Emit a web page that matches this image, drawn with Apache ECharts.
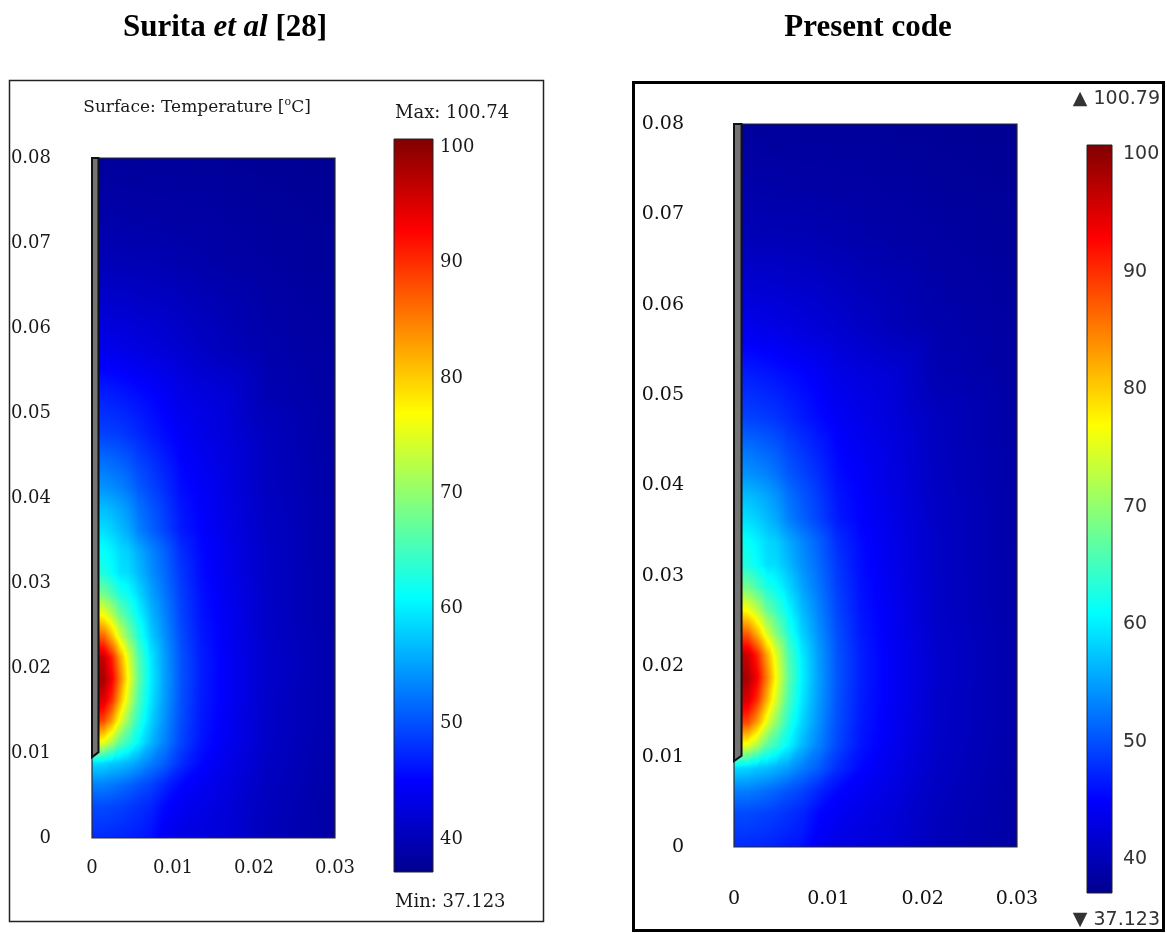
<!DOCTYPE html>
<html>
<head>
<meta charset="utf-8">
<script src="https://cdn.jsdelivr.net/npm/echarts@6/dist/echarts.min.js"></script>
<style>
html,body{margin:0;padding:0;background:#fff;}
#chart{width:1167px;height:933px;}
</style>
</head>
<body>
<div id="chart"></div>
<script>
// ---------- data ----------
// positions of the sampled temperature nodes, metres
const xNodes = [0, 0.0015, 0.0025, 0.0035, 0.0045, 0.00575, 0.00725, 0.009, 0.011, 0.0135, 0.017, 0.0215, 0.03];
const yNodes = [0, 0.00375, 0.00625, 0.00875, 0.01125, 0.01375, 0.01625, 0.01875, 0.02125, 0.02375, 0.02625,
                0.02875, 0.03125, 0.03375, 0.03625, 0.03875, 0.04125, 0.04375, 0.0475, 0.0525, 0.0575,
                0.0625, 0.0675, 0.0725, 0.08];
// estimated temperature [°C] at each node, rows from bottom (y=0) to top (y=0.08)
const tempField = [
  [47.7, 47.6, 47.5, 47.3, 47.0, 46.6, 46.0, 44.3, 43.1, 42.7, 42.0, 40.2, 38.6],
  [49.7, 49.7, 49.4, 49.1, 48.7, 48.1, 47.3, 45.4, 44.3, 43.4, 42.3, 40.4, 38.7],
  [53.1, 53.0, 52.5, 51.9, 51.3, 50.3, 49.2, 47.3, 45.4, 44.3, 42.8, 40.7, 38.8],
  [58.9, 58.4, 57.5, 57.1, 56.2, 54.9, 52.9, 50.8, 47.8, 45.4, 43.4, 41.0, 38.9],
  [77.4, 75.4, 71.5, 66.7, 64.2, 60.6, 56.6, 53.1, 49.3, 46.2, 43.9, 41.2, 39.0],
  [90.3, 87.9, 82.5, 75.2, 69.6, 63.5, 58.3, 54.1, 49.8, 46.5, 44.1, 41.3, 39.1],
  [97.0, 94.9, 89.7, 81.5, 74.0, 65.7, 59.5, 54.7, 50.1, 46.7, 44.3, 41.3, 39.1],
  [100.1, 98.0, 93.0, 85.0, 76.5, 67.0, 60.1, 55.0, 50.3, 46.8, 44.3, 41.5, 39.1],
  [97.9, 95.9, 90.6, 82.5, 74.7, 66.0, 59.7, 54.8, 50.2, 46.8, 44.3, 41.5, 39.1],
  [88.8, 86.3, 80.9, 74.0, 68.7, 63.1, 58.0, 54.0, 49.8, 46.5, 44.1, 41.3, 39.1],
  [78.4, 76.3, 72.3, 67.4, 64.6, 60.8, 56.7, 53.2, 49.3, 46.2, 44.0, 41.2, 39.0],
  [69.3, 67.9, 65.4, 62.6, 61.3, 58.6, 55.3, 52.4, 48.9, 46.0, 43.8, 41.2, 39.0],
  [63.3, 62.6, 61.0, 59.2, 58.8, 56.7, 54.1, 51.6, 48.4, 45.7, 43.6, 41.1, 39.0],
  [61.8, 61.3, 60.2, 58.7, 58.0, 55.8, 53.5, 51.1, 47.8, 45.5, 43.5, 41.1, 38.9],
  [59.3, 58.9, 58.0, 56.8, 55.6, 53.1, 51.2, 49.2, 46.6, 45.1, 43.2, 41.0, 38.9],
  [57.2, 56.9, 56.3, 55.4, 54.3, 52.2, 50.5, 48.7, 46.3, 44.9, 43.1, 40.9, 38.9],
  [54.4, 54.2, 53.7, 53.1, 52.2, 50.6, 49.3, 47.8, 45.7, 44.6, 42.9, 40.7, 38.8],
  [52.5, 52.4, 52.0, 51.4, 50.8, 49.5, 48.4, 47.0, 45.3, 44.2, 42.8, 40.6, 38.8],
  [49.3, 49.1, 48.9, 48.6, 48.2, 47.5, 46.6, 45.6, 44.5, 43.5, 42.4, 40.5, 38.7],
  [46.8, 46.7, 46.5, 46.3, 46.0, 45.6, 45.1, 44.4, 43.3, 42.7, 42.0, 39.7, 38.5],
  [43.7, 43.7, 43.6, 43.4, 43.2, 43.0, 42.6, 42.2, 41.7, 41.0, 40.1, 39.3, 38.4],
  [41.8, 41.8, 41.7, 41.7, 41.6, 41.3, 41.2, 41.0, 40.6, 40.1, 39.6, 38.9, 38.1],
  [40.0, 40.0, 40.0, 39.9, 39.9, 39.8, 39.8, 39.6, 39.4, 39.2, 38.8, 38.5, 37.9],
  [39.1, 39.1, 39.1, 39.1, 39.0, 39.0, 38.9, 38.8, 38.7, 38.7, 38.4, 38.1, 37.8],
  [38.1, 38.1, 38.1, 38.0, 38.0, 38.0, 38.0, 38.0, 37.9, 37.9, 37.8, 37.7, 37.5]
];
// colour range of each plot
const leftRange = [37.123, 100.74];
const rightRange = [37.123, 100.79];
// colour bar labels and ticks
const cbLabels = [40, 50, 60, 70, 80, 90, 100];
const cbTicks = [50, 60, 70, 80, 90];
// probe geometry (metres)
const probe = { radius: 0.0008, tipY: 0.0101, footY: 0.0095, topY: 0.08 };
// axis extents
const xRange = [0, 0.03];
const yRange = [0, 0.08];
// jet colour map
const jetColors = ['#00008F', '#0000FF', '#0080FF', '#00FFFF', '#80FF80', '#FFFF00', '#FF8000', '#FF0000', '#800000'];

// ---------- colour helpers ----------
const jetRGB = jetColors.map(h => [parseInt(h.substr(1, 2), 16), parseInt(h.substr(3, 2), 16), parseInt(h.substr(5, 2), 16)]);
function jetColor(v, range) {
  let t = (v - range[0]) / (range[1] - range[0]);
  t = Math.max(0, Math.min(1, t)) * (jetRGB.length - 1);
  const i = Math.min(jetRGB.length - 2, Math.floor(t));
  const f = t - i;
  const a = jetRGB[i], b = jetRGB[i + 1];
  return 'rgb(' + Math.round(a[0] + (b[0] - a[0]) * f) + ',' + Math.round(a[1] + (b[1] - a[1]) * f) + ',' + Math.round(a[2] + (b[2] - a[2]) * f) + ')';
}
// linear shading of one mesh triangle (pixel points P, node values V)
function triangleFill(P, V, range) {
  const a = P[0], b = P[1], c = P[2];
  const d1x = b[0] - a[0], d1y = b[1] - a[1], d2x = c[0] - a[0], d2y = c[1] - a[1];
  const dv1 = V[1] - V[0], dv2 = V[2] - V[0];
  const det = d1x * d2y - d1y * d2x;
  const vlo = Math.min(V[0], V[1], V[2]), vhi = Math.max(V[0], V[1], V[2]);
  if (Math.abs(det) < 1e-9 || vhi - vlo < 1e-6) return jetColor(V[0], range);
  const gx = (dv1 * d2y - d1y * dv2) / det;
  const gy = (d1x * dv2 - d2x * dv1) / det;
  const g2 = gx * gx + gy * gy;
  if (g2 < 1e-14) return jetColor(V[0], range);
  const sx = a[0] + (vlo - V[0]) * gx / g2, sy = a[1] + (vlo - V[0]) * gy / g2;
  const ex = a[0] + (vhi - V[0]) * gx / g2, ey = a[1] + (vhi - V[0]) * gy / g2;
  const stops = [{ offset: 0, color: jetColor(vlo, range) }];
  const n = jetRGB.length - 1;
  for (let k = 1; k < n; k++) {
    const vk = range[0] + (range[1] - range[0]) * k / n;
    if (vk > vlo && vk < vhi) stops.push({ offset: (vk - vlo) / (vhi - vlo), color: jetColor(vk, range) });
  }
  stops.push({ offset: 1, color: jetColor(vhi, range) });
  return { type: 'linear', x: sx, y: sy, x2: ex, y2: ey, global: true, colorStops: stops };
}

// ---------- build ----------
function meshData(field) {
  const out = [];
  for (let r = 0; r < yNodes.length - 1; r++) {
    for (let c = 0; c < xNodes.length - 1; c++) {
      out.push([xNodes[c], xNodes[c + 1], yNodes[r], yNodes[r + 1],
                field[r][c], field[r][c + 1], field[r + 1][c + 1], field[r + 1][c]]);
    }
  }
  return out;
}
function makeRenderMesh(range) {
  return function (params, api) {
    const x0 = api.value(0), x1 = api.value(1), y0 = api.value(2), y1 = api.value(3);
    const p00 = api.coord([x0, y0]), p10 = api.coord([x1, y0]), p11 = api.coord([x1, y1]), p01 = api.coord([x0, y1]);
    const v00 = api.value(4), v10 = api.value(5), v11 = api.value(6), v01 = api.value(7);
    const f1 = triangleFill([p00, p10, p11], [v00, v10, v11], range);
    const f2 = triangleFill([p00, p11, p01], [v00, v11, v01], range);
    return {
      type: 'group',
      children: [
        { type: 'polygon', shape: { points: [p00, p10, p11] }, style: { fill: f1, stroke: f1, lineWidth: 1.3, lineJoin: 'round' } },
        { type: 'polygon', shape: { points: [p00, p11, p01] }, style: { fill: f2, stroke: f2, lineWidth: 1.3, lineJoin: 'round' } }
      ]
    };
  };
}
function renderFrameAndProbe(params, api) {
  const tl = api.coord([xRange[0], yRange[1]]);
  const br = api.coord([xRange[1], yRange[0]]);
  const pts = [
    api.coord([0, probe.topY]),
    api.coord([probe.radius, probe.topY]),
    api.coord([probe.radius, probe.tipY]),
    api.coord([0, probe.footY])
  ];
  return {
    type: 'group',
    children: [
      { type: 'rect', shape: { x: tl[0], y: tl[1], width: br[0] - tl[0], height: br[1] - tl[1] },
        style: { fill: 'none', stroke: '#2a2a2a', lineWidth: 1.2 } },
      { type: 'polygon', shape: { points: pts },
        style: { fill: '#747474', stroke: '#111', lineWidth: 2 } }
    ]
  };
}
function renderColorBar(params, api) {
  const p0 = api.coord([0, api.value(3)]);
  const p1 = api.coord([1, api.value(2)]);
  const stops = jetColors.slice().reverse().map((c, i, a) => ({ offset: i / (a.length - 1), color: c }));
  return {
    type: 'rect',
    shape: { x: p0[0], y: p0[1], width: p1[0] - p0[0], height: p1[1] - p0[1] },
    style: { fill: { type: 'linear', x: 0, y: 0, x2: 0, y2: 1, colorStops: stops }, stroke: '#222', lineWidth: 1 }
  };
}
const tickFmt = v => (Math.abs(v) < 1e-9 ? '0' : (+v).toFixed(2));

const serifL = { fontFamily: 'DejaVu Serif', fontSize: 18, color: '#1a1a1a' };
const serifR = { fontFamily: 'DejaVu Serif', fontSize: 19, color: '#111' };

function plotAxes(gridIndex, font, xMargin, yMargin) {
  return {
    x: {
      type: 'value', gridIndex, min: xRange[0], max: xRange[1], interval: 0.01,
      axisLine: { show: false }, axisTick: { show: false }, splitLine: { show: false },
      axisLabel: Object.assign({ margin: xMargin, formatter: tickFmt, showMinLabel: true, showMaxLabel: true }, font)
    },
    y: {
      type: 'value', gridIndex, min: yRange[0], max: yRange[1], interval: 0.01,
      axisLine: { show: false }, axisTick: { show: false }, splitLine: { show: false },
      axisLabel: Object.assign({ margin: yMargin, formatter: tickFmt, showMinLabel: true, showMaxLabel: true }, font)
    }
  };
}
function barAxes(gridIndex, range, labelFont, margin, showTicks) {
  return {
    x: { type: 'value', gridIndex, min: 0, max: 1, show: false },
    y: {
      type: 'value', gridIndex, min: range[0], max: range[1], position: 'right',
      axisLine: { show: false }, splitLine: { show: false },
      axisTick: { show: showTicks, customValues: cbTicks, length: 4, lineStyle: { color: '#222', width: 1 } },
      axisLabel: Object.assign({ margin, customValues: cbLabels, formatter: v => String(Math.round(v)) }, labelFont)
    }
  };
}

const aL = plotAxes(0, serifL, 21, 41);
const bL = barAxes(1, leftRange, { fontFamily: 'DejaVu Serif', fontSize: 18, color: '#1a1a1a' }, 7, true);
const aR = plotAxes(2, serifR, 43, 50);
const bR = barAxes(3, rightRange, { fontFamily: 'DejaVu Sans', fontSize: 19, color: '#333' }, 11, false);

const option = {
  animation: false,
  backgroundColor: '#fff',
  grid: [
    { left: 92, top: 158, width: 243, height: 680, show: true, backgroundColor: '#0000b4', borderWidth: 0 },
    { left: 394, top: 139, width: 39, height: 733 },
    { left: 734, top: 124, width: 283, height: 723, show: true, backgroundColor: '#0000b4', borderWidth: 0 },
    { left: 1087, top: 145, width: 25, height: 748 }
  ],
  xAxis: [aL.x, bL.x, aR.x, bR.x],
  yAxis: [aL.y, bL.y, aR.y, bR.y],
  series: [
    { type: 'custom', xAxisIndex: 0, yAxisIndex: 0, clip: true, renderItem: makeRenderMesh(leftRange), encode: { x: [0, 1], y: [2, 3] }, data: meshData(tempField), silent: true },
    { type: 'custom', xAxisIndex: 0, yAxisIndex: 0, renderItem: renderFrameAndProbe, data: [[0]], silent: true, z: 5 },
    { type: 'custom', xAxisIndex: 1, yAxisIndex: 1, renderItem: renderColorBar, encode: { y: [2, 3] }, data: [[0, 1, leftRange[0], leftRange[1]]], silent: true },
    { type: 'custom', xAxisIndex: 2, yAxisIndex: 2, clip: true, renderItem: makeRenderMesh(rightRange), encode: { x: [0, 1], y: [2, 3] }, data: meshData(tempField), silent: true },
    { type: 'custom', xAxisIndex: 2, yAxisIndex: 2, renderItem: renderFrameAndProbe, data: [[0]], silent: true, z: 5 },
    { type: 'custom', xAxisIndex: 3, yAxisIndex: 3, renderItem: renderColorBar, encode: { y: [2, 3] }, data: [[0, 1, rightRange[0], rightRange[1]]], silent: true }
  ],
  graphic: [
    { type: 'rect', silent: true, shape: { x: 9.5, y: 80.5, width: 534, height: 841 }, style: { fill: 'none', stroke: '#222', lineWidth: 1.5 } },
    { type: 'rect', silent: true, shape: { x: 633.5, y: 82.5, width: 530, height: 848 }, style: { fill: 'none', stroke: '#000', lineWidth: 3 } },
    { type: 'text', silent: true, x: 225, y: 28, style: {
        text: '{b|Surita }{bi|et al}{b| [28]}', align: 'center', verticalAlign: 'middle',
        rich: {
          b: { fontFamily: 'Liberation Serif', fontWeight: 'bold', fontSize: 31, fill: '#000' },
          bi: { fontFamily: 'Liberation Serif', fontWeight: 'bold', fontStyle: 'italic', fontSize: 31, fill: '#000' }
        } } },
    { type: 'text', silent: true, x: 868, y: 28, style: {
        text: 'Present code', align: 'center', verticalAlign: 'middle',
        font: 'bold 31px "Liberation Serif"', fill: '#000' } },
    { type: 'text', silent: true, x: 197, y: 108, style: {
        text: '{n|Surface: Temperature [}{s|o}{n|C]}', align: 'center', verticalAlign: 'middle',
        rich: {
          n: { fontFamily: 'DejaVu Serif', fontSize: 17, fill: '#1a1a1a', lineHeight: 22 },
          s: { fontFamily: 'DejaVu Serif', fontSize: 11, fill: '#1a1a1a', verticalAlign: 'top', lineHeight: 22 }
        } } },
    { type: 'text', silent: true, x: 395, y: 113, style: {
        text: 'Max: ' + leftRange[1], align: 'left', verticalAlign: 'middle',
        font: '18px "DejaVu Serif"', fill: '#1a1a1a' } },
    { type: 'text', silent: true, x: 395, y: 902, style: {
        text: 'Min: ' + leftRange[0], align: 'left', verticalAlign: 'middle',
        font: '18px "DejaVu Serif"', fill: '#1a1a1a' } },
    { type: 'text', silent: true, x: 1160, y: 99, style: {
        text: '\u25B2 ' + rightRange[1], align: 'right', verticalAlign: 'middle',
        font: '19px "DejaVu Sans"', fill: '#333' } },
    { type: 'text', silent: true, x: 1160, y: 920, style: {
        text: '\u25BC ' + rightRange[0], align: 'right', verticalAlign: 'middle',
        font: '19px "DejaVu Sans"', fill: '#333' } }
  ]
};

const chart = echarts.init(document.getElementById('chart'), null, { renderer: 'canvas' });
chart.setOption(option);
</script>
</body>
</html>
